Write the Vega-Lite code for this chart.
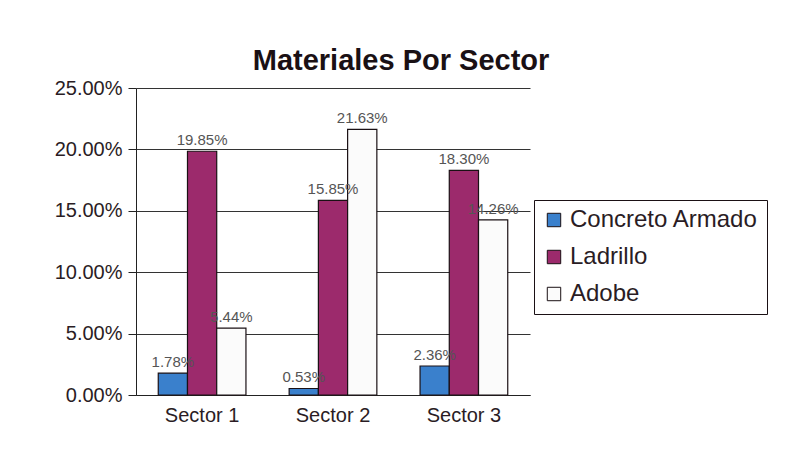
{
  "$schema": "https://vega.github.io/schema/vega-lite/v6.json",
  "width": 394,
  "height": 307,
  "autosize": {"type": "none"},
  "padding": {"left": 136, "top": 88, "right": 262, "bottom": 64},
  "background": "white",
  "title": {
    "text": "Materiales Por Sector",
    "font": "Liberation Sans",
    "fontSize": 29,
    "fontWeight": "bold",
    "color": "#1a1014",
    "anchor": "middle",
    "dx": 68,
    "offset": 2
  },
  "data": {
    "values": [
      {"sector": "Sector 1", "material": "Concreto Armado", "value": 0.0178},
      {"sector": "Sector 1", "material": "Ladrillo", "value": 0.1985},
      {"sector": "Sector 1", "material": "Adobe", "value": 0.0544},
      {"sector": "Sector 2", "material": "Concreto Armado", "value": 0.0053},
      {"sector": "Sector 2", "material": "Ladrillo", "value": 0.1585},
      {"sector": "Sector 2", "material": "Adobe", "value": 0.2163},
      {"sector": "Sector 3", "material": "Concreto Armado", "value": 0.0236},
      {"sector": "Sector 3", "material": "Ladrillo", "value": 0.183},
      {"sector": "Sector 3", "material": "Adobe", "value": 0.1426}
    ]
  },
  "encoding": {
    "x": {
      "field": "sector",
      "type": "nominal",
      "scale": {"paddingInner": 0.33, "paddingOuter": 0.17},
      "axis": {
        "title": null,
        "labelAngle": 0,
        "labelFont": "Liberation Sans",
        "labelFontSize": 20,
        "labelColor": "#2a1c24",
        "labelPadding": 10,
        "domainColor": "#222",
        "ticks": false
      }
    },
    "xOffset": {
      "field": "material",
      "type": "nominal",
      "sort": ["Concreto Armado", "Ladrillo", "Adobe"]
    },
    "y": {
      "field": "value",
      "type": "quantitative",
      "scale": {"domain": [0, 0.25], "nice": false},
      "axis": {
        "title": null,
        "format": ".2%",
        "values": [0, 0.05, 0.1, 0.15, 0.2, 0.25],
        "labelOverlap": false,
        "labelFont": "Liberation Sans",
        "labelFontSize": 20,
        "labelColor": "#2a1c24",
        "labelPadding": 6,
        "tickSize": 8,
        "tickColor": "#222",
        "domainColor": "#222",
        "gridColor": "#333",
        "gridWidth": 1.2
      }
    }
  },
  "layer": [
    {
      "mark": {"type": "bar", "stroke": "#1a1014", "strokeWidth": 1.2},
      "encoding": {
        "color": {
          "field": "material",
          "type": "nominal",
          "sort": ["Concreto Armado", "Ladrillo", "Adobe"],
          "scale": {
            "domain": ["Concreto Armado", "Ladrillo", "Adobe"],
            "range": ["#3a80cc", "#9c2a6c", "#fbfbfb"]
          },
          "legend": {
            "title": null,
            "orient": "none",
            "legendX": 398,
            "legendY": 112,
            "symbolType": "square",
            "symbolSize": 180,
            "symbolStrokeColor": "#1a1014",
            "symbolStrokeWidth": 1,
            "labelFont": "Liberation Sans",
            "labelFontSize": 24,
            "labelLimit": 400,
            "labelColor": "#2a1c24",
            "labelOffset": 4,
            "rowPadding": 13,
            "padding": 8,
            "strokeColor": "#1a1014",
            "fillColor": "white"
          }
        }
      }
    },
    {
      "mark": {
        "type": "text",
        "dy": -11,
        "font": "Liberation Sans",
        "fontSize": 15,
        "color": "#555"
      },
      "encoding": {
        "text": {"field": "value", "type": "quantitative", "format": ".2%"}
      }
    }
  ],
  "config": {
    "view": {"stroke": null}
  }
}
